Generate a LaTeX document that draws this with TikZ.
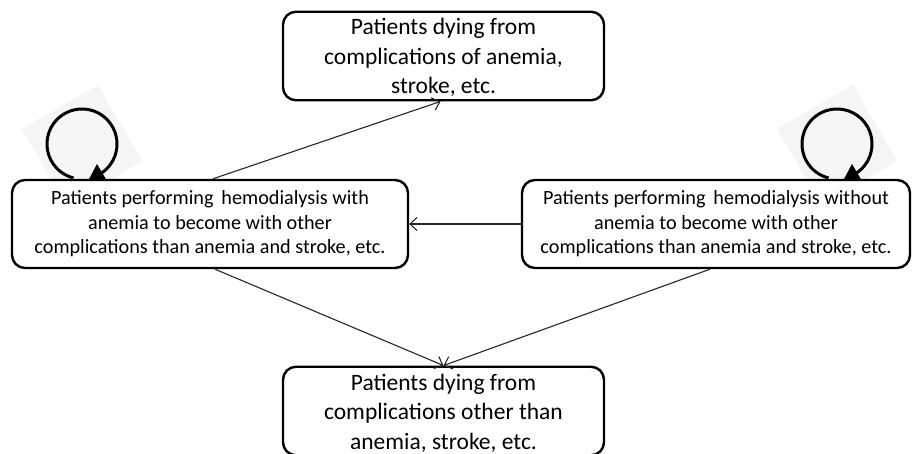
\documentclass[tikz,border=0pt]{standalone}
\usepackage{fontspec}
\setmainfont{Carlito}
\usetikzlibrary{arrows.meta}
\tikzset{
  box/.style={draw=black, line width=2.4pt, rounded corners=13pt, fill=white, align=center, inner sep=0pt},
  bigtext/.style={font=\fontsize{23.5}{29.5}\selectfont},
  smalltext/.style={font=\fontsize{20.2}{24.5}\selectfont},
  conn/.style={draw=black!85, line width=1.1pt, -{Straight Barb[length=7pt,width=13pt,line width=1.1pt]}},
  loopline/.style={draw=black, line width=3pt},
  shade/.style={fill=black!4, draw=none},
}
\begin{document}
\begin{tikzpicture}[x=1pt,y=-1pt]
\useasboundingbox (0,0) rectangle (915,454);
% faint background squares behind loops
\fill[shade, rotate around={30:(82,145)}] (38,101) rectangle (126,189);
\fill[shade, rotate around={30:(837,145)}] (793,101) rectangle (881,189);
% self loops
\draw[loopline] (82,144) ++(104:35) arc[start angle=104, end angle=423, radius=35];
\fill[black] (88,181) -- (107,181) -- (97,164) -- cycle;
\draw[loopline] (837,144) ++(104:35) arc[start angle=104, end angle=423, radius=35];
\fill[black] (843,181) -- (862,181) -- (852,164) -- cycle;
% boxes
\node[box, bigtext, minimum width=321pt, minimum height=88pt] (T) at (443.5,56)
  {\raisebox{-2.5pt}[\height][\depth]{\begin{tabular}{@{}c@{}}Patients dying from\\complications of anemia,\\stroke, etc.\end{tabular}}};
\node[box, smalltext, minimum width=396pt, minimum height=88pt] (L) at (210,224)
  {Patients performing\, hemodialysis with\\anemia to become with other\\complications than anemia and stroke, etc.};
\node[box, smalltext, minimum width=388pt, minimum height=88pt] (R) at (716,224)
  {Patients performing\, hemodialysis without\\anemia to become with other\\complications than anemia and stroke, etc.};
\node[box, bigtext, minimum width=321pt, minimum height=82pt] (B) at (443.5,411)
  {\raisebox{-3pt}[\height][\depth]{\begin{tabular}{@{}c@{}}Patients dying from\\complications other than\\anemia, stroke, etc.\end{tabular}}};
% connectors
\draw[conn] ([xshift=3pt]L.north) -- ([xshift=-3pt]T.south);
\draw[conn] (R.west) -- (L.east);
\draw[conn] ([xshift=5pt]L.south) -- (B.north);
\draw[conn] ([xshift=-6pt]R.south) -- (B.north);
\end{tikzpicture}
\end{document}
